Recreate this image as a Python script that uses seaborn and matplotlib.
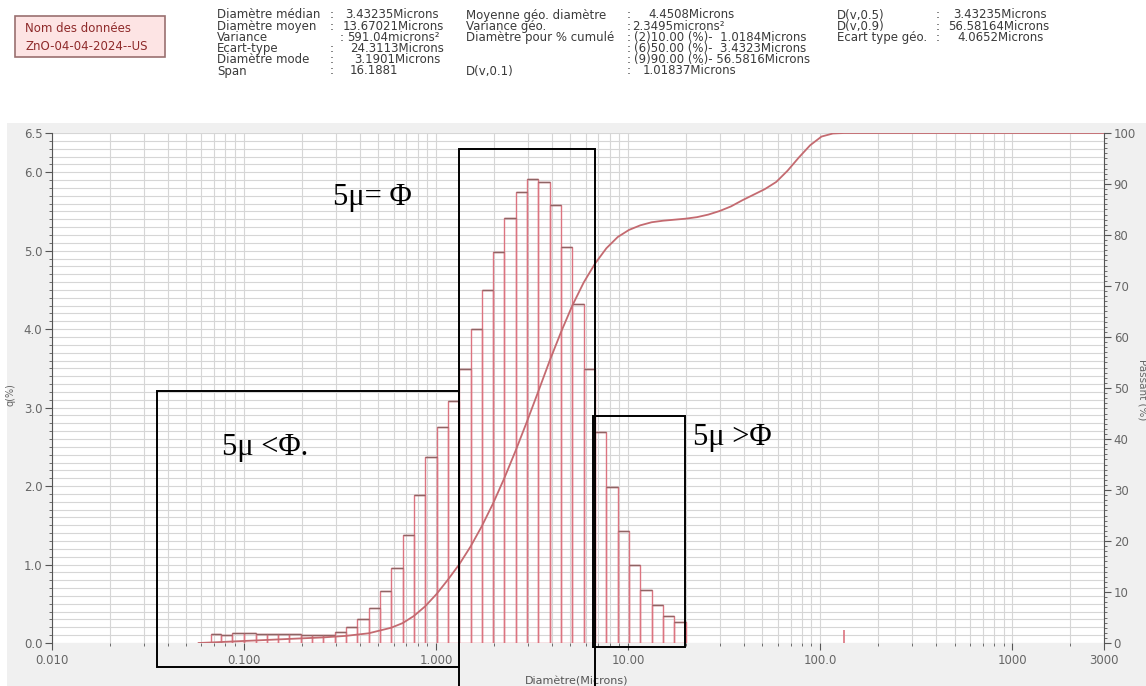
import numpy as np
import matplotlib
matplotlib.use("Agg")
import matplotlib.pyplot as plt
from matplotlib.patches import Rectangle
from matplotlib.ticker import FixedLocator, MultipleLocator, NullFormatter
import seaborn as sns

# ---------------- data ----------------
# channel edges (microns) of the displayed histogram bars
bin_edges = [0.067, 0.076, 0.087, 0.100, 0.115, 0.131, 0.150, 0.172, 0.197, 0.226,
             0.259, 0.296, 0.339, 0.389, 0.445, 0.510, 0.584, 0.669, 0.766, 0.877,
             1.005, 1.151, 1.318, 1.510, 1.729, 1.981, 2.269, 2.599, 2.976, 3.409,
             3.905, 4.472, 5.122, 5.867, 6.720, 7.697, 8.816, 10.097, 11.565, 13.246,
             15.172, 17.377, 19.904]
# frequency q(%) per channel
q_pct = [0.12, 0.10, 0.13, 0.13, 0.12, 0.12, 0.11, 0.11, 0.10, 0.10,
         0.10, 0.14, 0.20, 0.30, 0.44, 0.66, 0.96, 1.38, 1.89, 2.37,
         2.75, 3.08, 3.49, 4.00, 4.50, 4.98, 5.42, 5.75, 5.91, 5.88,
         5.58, 5.05, 4.32, 3.49, 2.69, 1.99, 1.43, 0.99, 0.68, 0.48,
         0.34, 0.27]
# isolated small channel near 133 microns
spike_d = [133.10]
spike_q = [0.17]
# cumulative undersize curve
cum_d = [0.058, 0.067, 0.087, 0.115, 0.150, 0.197, 0.259, 0.339, 0.445, 0.584,
         0.669, 0.766, 0.877, 1.005, 1.151, 1.318, 1.510, 1.729, 1.981, 2.269,
         2.599, 2.976, 3.409, 3.905, 4.472, 5.122, 5.867, 6.720, 7.697, 8.816,
         10.097, 11.565, 13.246, 15.172, 17.377, 19.904, 22.797, 26.111, 29.907, 34.255,
         39.234, 44.938, 51.471, 58.953, 67.523, 77.339, 88.583, 101.46, 116.21, 133.10,
         3000.0]
cum_pct = [0.0, 0.1, 0.3, 0.5, 0.7, 0.9, 1.1, 1.4, 1.9, 3.0,
           3.9, 5.3, 7.2, 9.6, 12.4, 15.4, 18.9, 22.9, 27.4, 32.4,
           37.8, 43.5, 49.4, 55.4, 61.0, 66.2, 70.7, 74.4, 77.4, 79.6,
           81.0, 81.9, 82.5, 82.8, 83.0, 83.2, 83.5, 84.0, 84.7, 85.6,
           86.8, 87.9, 89.0, 90.4, 92.6, 95.2, 97.6, 99.3, 99.9, 100.0,
           100.0]

x_ticks = [0.01, 0.1, 1, 10, 100, 1000, 3000]
x_tick_labels = ["0.010", "0.100", "1.000", "10.00", "100.0", "1000", "3000"]
y_ticks = [0, 1, 2, 3, 4, 5, 6, 6.5]
y_tick_labels = ["0.0", "1.0", "2.0", "3.0", "4.0", "5.0", "6.0", "6.5"]
y2_ticks = [0, 10, 20, 30, 40, 50, 60, 70, 80, 90, 100]

header_name = ["Nom des données", "ZnO-04-04-2024--US"]
colA_labels = ["Diamètre médian", "Diamètre moyen", "Variance", "Ecart-type", "Diamètre mode", "Span"]
colA_values = ["3.43235Microns", "13.67021Microns", "591.04microns²", "24.3113Microns", "3.1901Microns", "16.1881"]
colB_labels = ["Moyenne géo. diamètre", "Variance géo.", "Diamètre pour % cumulé", "", "", "D(v,0.1)"]
colB_values = ["4.4508Microns", "2.3495microns²", "(2)10.00 (%)-  1.0184Microns",
               "(6)50.00 (%)-  3.4323Microns", "(9)90.00 (%)- 56.5816Microns", "1.01837Microns"]
colC_labels = ["D(v,0.5)", "D(v,0.9)", "Ecart type géo."]
colC_values = ["3.43235Microns", "56.58164Microns", "4.0652Microns"]

# ---------------- figure ----------------
W, H = 1146, 686
fig = plt.figure(figsize=(W / 100, H / 100), dpi=100)
fig.patch.set_facecolor("white")


def fx(px):
    return px / W


def fy(py):
    return 1 - py / H


fig.patches.append(Rectangle((fx(7), 0), 1 - fx(7), fy(123), transform=fig.transFigure,
                             facecolor="#f0f0f0", edgecolor="none", zorder=-5))

ax = fig.add_axes([fx(52), fy(643), fx(1104) - fx(52), fy(133) - fy(643)])
ax.set_facecolor("white")

edges = np.array(bin_edges)
centers = np.sqrt(edges[:-1] * edges[1:])
sns.histplot(x=centers, weights=q_pct, bins=list(np.log10(edges)), log_scale=True,
             fill=False, element="bars", color="#dc7480", linewidth=1.0, ax=ax)
ax.hlines(q_pct, edges[:-1], edges[1:], colors="#8e6464", linewidth=1.0, zorder=3)
ax.vlines(spike_d, 0, spike_q, colors="#dc7480", linewidth=1.2, zorder=3)

ax.set_xlim(0.01, 3000)
ax.set_ylim(0, 6.5)
ax.set_xlabel("")
ax.set_ylabel("")
minor_x = [n * 10.0 ** k for k in range(-2, 4) for n in range(2, 10) if n * 10.0 ** k < 3000]
ax.xaxis.set_major_locator(FixedLocator(x_ticks))
ax.set_xticklabels(x_tick_labels)
ax.xaxis.set_minor_locator(FixedLocator(minor_x))
ax.xaxis.set_minor_formatter(NullFormatter())
ax.set_yticks(y_ticks)
ax.set_yticklabels(y_tick_labels)
ax.yaxis.set_minor_locator(MultipleLocator(0.1))
ax.set_axisbelow(True)
ax.grid(which="both", axis="both", color="#d6d6d6", linewidth=0.8)
for s in ["top", "bottom", "right"]:
    ax.spines[s].set_visible(False)
ax.spines["left"].set_color("#555555")
ax.tick_params(which="major", length=5, color="#555555", labelsize=8.5,
               labelcolor="#666666", direction="out")
ax.tick_params(which="minor", length=2, color="#555555", direction="out")
ax.tick_params(axis="x", pad=3)
ax.tick_params(axis="y", pad=2)

ax2 = ax.twinx()
sns.lineplot(x=cum_d, y=cum_pct, ax=ax2, color="#c46a70", linewidth=1.3, estimator=None)
ax2.set_ylim(0, 100)
ax2.set_xlim(0.01, 3000)
ax2.set_ylabel("")
ax2.set_yticks(y2_ticks)
ax2.yaxis.set_minor_locator(MultipleLocator(1))
for s in ["top", "bottom", "left"]:
    ax2.spines[s].set_visible(False)
ax2.spines["right"].set_color("#555555")
ax2.tick_params(which="major", length=5, color="#555555", labelsize=8.5,
                labelcolor="#666666", direction="out", pad=2)
ax2.tick_params(which="minor", length=2, color="#555555", direction="out")

# axis titles
fig.text(fx(11), fy(395), "q(%)", rotation=90, ha="center", va="center",
         fontsize=7, color="#666666")
fig.text(fx(1143), fy(390), "Passant (%)", rotation=270, ha="center", va="center",
         fontsize=7.5, color="#666666")
fig.text(fx(577), fy(682), "Diamètre(Microns)", ha="center", va="center",
         fontsize=8, color="#555555")

# annotation boxes (pixel layout)
for (x0, y0, x1, y1) in [(157, 391, 459, 667), (458.5, 149, 594.5, 700), (593, 416, 685, 647)]:
    fig.patches.append(Rectangle((fx(x0), fy(y1)), fx(x1) - fx(x0), fy(y0) - fy(y1),
                                 transform=fig.transFigure, facecolor="none",
                                 edgecolor="black", linewidth=1.4, zorder=10))
serif = ["Liberation Serif", "DejaVu Serif"]
fig.text(fx(333), fy(198), "5μ= Φ", family=serif, fontsize=22, ha="left", va="center", zorder=11)
fig.text(fx(222), fy(447), "5μ <Φ.", family=serif, fontsize=22, ha="left", va="center", zorder=11)
fig.text(fx(693), fy(438), "5μ >Φ", family=serif, fontsize=22, ha="left", va="center", zorder=11)

# header
fig.patches.append(Rectangle((fx(15), fy(57)), fx(165) - fx(15), fy(16) - fy(57),
                             transform=fig.transFigure, facecolor="#fde4e4",
                             edgecolor="#9a7070", linewidth=1.2, zorder=2))
for i, t in enumerate(header_name):
    fig.text(fx(25), fy(29 + 17.5 * i), t, fontsize=8.5, color="#8e2a2a",
             ha="left", va="center", zorder=3)

hc = "#3a3a3a"
rows = [15, 26.2, 37.4, 48.6, 59.8, 71]
a_val_x = [345, 343, 347, 350, 354, 350]
for i, (lab, val) in enumerate(zip(colA_labels, colA_values)):
    fig.text(fx(217), fy(rows[i]), lab, fontsize=8.5, color=hc, va="center")
    fig.text(fx(330 if i != 2 else 340), fy(rows[i]), ":", fontsize=8.5, color=hc, va="center")
    fig.text(fx(a_val_x[i]), fy(rows[i]), val, fontsize=8.5, color=hc, va="center")
b_val_x = [648, 632, 634, 634, 634, 643]
for i, (lab, val) in enumerate(zip(colB_labels, colB_values)):
    if lab:
        fig.text(fx(466), fy(rows[i]), lab, fontsize=8.5, color=hc, va="center")
    fig.text(fx(627), fy(rows[i]), ":", fontsize=8.5, color=hc, va="center")
    fig.text(fx(b_val_x[i]), fy(rows[i]), val, fontsize=8.5, color=hc, va="center")
c_val_x = [953, 948, 957]
for i, (lab, val) in enumerate(zip(colC_labels, colC_values)):
    fig.text(fx(837), fy(rows[i]), lab, fontsize=8.5, color=hc, va="center")
    fig.text(fx(936), fy(rows[i]), ":", fontsize=8.5, color=hc, va="center")
    fig.text(fx(c_val_x[i]), fy(rows[i]), val, fontsize=8.5, color=hc, va="center")

fig.savefig("out.png", dpi=100, facecolor="white")
